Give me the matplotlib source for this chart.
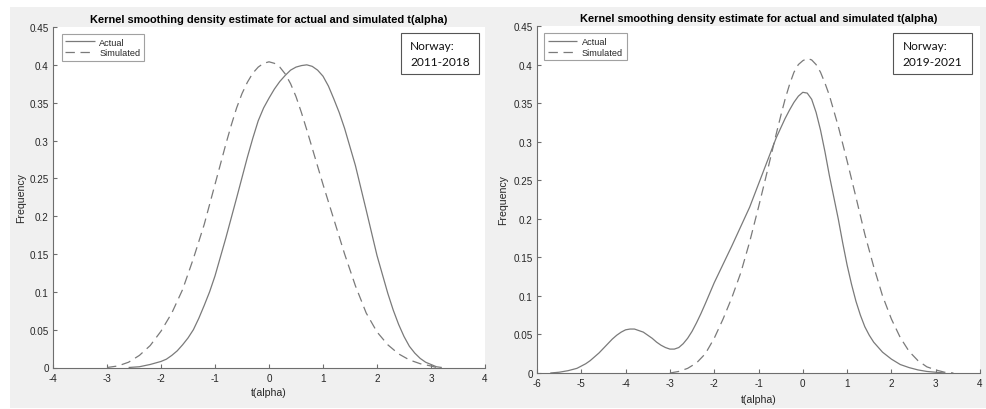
import matplotlib
matplotlib.use("Agg")
import matplotlib.pyplot as plt
from matplotlib.patches import Rectangle

plt.rcParams['font.family'] = ['Liberation Sans', 'DejaVu Sans']

# ---------------- data ----------------
# Left panel: Norway 2011-2018
left_actual_x = [-2.6, -2.4, -2.2, -2.0, -1.9, -1.8, -1.7, -1.6, -1.5, -1.4, -1.3, -1.2, -1.1,
                 -1.0, -0.8, -0.6, -0.4, -0.3, -0.2, -0.1, 0.0, 0.1, 0.2, 0.3, 0.4, 0.5, 0.6,
                 0.7, 0.8, 0.9, 1.0, 1.1, 1.2, 1.3, 1.4, 1.6, 1.8, 2.0, 2.2, 2.3, 2.4, 2.5,
                 2.6, 2.7, 2.8, 2.9, 3.0, 3.1, 3.2]
left_actual_y = [0.0, 0.001, 0.004, 0.008, 0.011, 0.016, 0.022, 0.030, 0.039, 0.050, 0.065,
                 0.082, 0.100, 0.121, 0.171, 0.224, 0.278, 0.303, 0.326, 0.343, 0.356, 0.368,
                 0.378, 0.386, 0.393, 0.397, 0.399, 0.400, 0.398, 0.393, 0.385, 0.372, 0.355,
                 0.337, 0.316, 0.267, 0.208, 0.148, 0.098, 0.076, 0.057, 0.041, 0.028, 0.019,
                 0.012, 0.007, 0.004, 0.001, 0.0]

left_sim_x = [-3.0, -2.8, -2.6, -2.4, -2.2, -2.0, -1.8, -1.6, -1.4, -1.2, -1.0, -0.8, -0.7,
              -0.6, -0.5, -0.4, -0.3, -0.2, -0.1, 0.0, 0.1, 0.2, 0.3, 0.4, 0.5, 0.6, 0.7,
              0.8, 1.0, 1.2, 1.4, 1.6, 1.8, 2.0, 2.2, 2.4, 2.6, 2.8, 3.0, 3.1]
left_sim_y = [0.0, 0.002, 0.007, 0.016, 0.029, 0.048, 0.072, 0.103, 0.144, 0.189, 0.242,
              0.295, 0.320, 0.343, 0.362, 0.377, 0.389, 0.397, 0.402, 0.404, 0.402, 0.397,
              0.388, 0.375, 0.358, 0.337, 0.314, 0.290, 0.242, 0.196, 0.150, 0.108, 0.072,
              0.047, 0.030, 0.018, 0.010, 0.005, 0.002, 0.0]

# Right panel: Norway 2019-2021
right_actual_x = [-5.7, -5.5, -5.3, -5.1, -5.0, -4.9, -4.8, -4.7, -4.6, -4.5, -4.4, -4.3,
                  -4.2, -4.1, -4.0, -3.9, -3.8, -3.7, -3.6, -3.5, -3.4, -3.3, -3.2, -3.1,
                  -3.0, -2.9, -2.8, -2.7, -2.6, -2.5, -2.4, -2.3, -2.2, -2.0, -1.8, -1.6,
                  -1.4, -1.2, -1.0, -0.8, -0.6, -0.4, -0.3, -0.2, -0.1, 0.0, 0.1, 0.2, 0.3,
                  0.4, 0.5, 0.6, 0.7, 0.8, 0.9, 1.0, 1.1, 1.2, 1.3, 1.4, 1.5, 1.6, 1.8, 2.0,
                  2.2, 2.4, 2.6, 2.8, 3.0, 3.2]
right_actual_y = [0.0, 0.001, 0.003, 0.006, 0.009, 0.012, 0.016, 0.021, 0.026, 0.032, 0.038,
                  0.044, 0.049, 0.053, 0.056, 0.057, 0.057, 0.055, 0.053, 0.049, 0.045, 0.040,
                  0.036, 0.033, 0.031, 0.031, 0.033, 0.038, 0.045, 0.054, 0.065, 0.077, 0.090,
                  0.117, 0.141, 0.165, 0.190, 0.215, 0.245, 0.275, 0.305, 0.330, 0.341, 0.351,
                  0.359, 0.364, 0.363, 0.355, 0.338, 0.315, 0.287, 0.256, 0.228, 0.200, 0.169,
                  0.140, 0.115, 0.093, 0.075, 0.060, 0.049, 0.040, 0.027, 0.018, 0.011, 0.007,
                  0.004, 0.002, 0.001, 0.0]

right_sim_x = [-3.0, -2.8, -2.6, -2.4, -2.2, -2.0, -1.8, -1.6, -1.4, -1.2, -1.0, -0.8, -0.6,
               -0.5, -0.4, -0.3, -0.2, -0.1, 0.0, 0.1, 0.2, 0.3, 0.4, 0.5, 0.6, 0.8, 1.0,
               1.2, 1.4, 1.6, 1.8, 2.0, 2.2, 2.4, 2.6, 2.8, 3.0, 3.2, 3.4]
right_sim_y = [0.0, 0.002, 0.006, 0.013, 0.025, 0.045, 0.070, 0.098, 0.130, 0.170, 0.215,
               0.262, 0.310, 0.333, 0.355, 0.374, 0.390, 0.400, 0.405, 0.408, 0.406, 0.400,
               0.390, 0.376, 0.360, 0.320, 0.275, 0.228, 0.180, 0.138, 0.100, 0.070, 0.046,
               0.028, 0.016, 0.008, 0.004, 0.001, 0.0]

title_text = "Kernel smoothing density estimate for actual and simulated t(alpha)"
legend_labels = ["Actual", "Simulated"]
left_xticks = [-4, -3, -2, -1, 0, 1, 2, 3, 4]
right_xticks = [-6, -5, -4, -3, -2, -1, 0, 1, 2, 3, 4]
yticks = [0, 0.05, 0.1, 0.15, 0.2, 0.25, 0.3, 0.35, 0.4, 0.45]
ytick_labels = ["0", "0.05", "0.1", "0.15", "0.2", "0.25", "0.3", "0.35", "0.4", "0.45"]
box_texts = ["Norway:\n2011-2018", "Norway:\n2019-2021"]

# ---------------- figure ----------------
W, H = 986, 410
fig = plt.figure(figsize=(W / 100, H / 100), dpi=100, facecolor='white')

def px(x0, y0, x1, y1):
    return [x0 / W, 1 - y1 / H, (x1 - x0) / W, (y1 - y0) / H]

# gray MATLAB figure background
fig.patches.append(Rectangle((10 / W, 1 - 409 / H), (W - 10) / W, (409 - 8) / H,
                             transform=fig.transFigure, facecolor='#f0f0f0',
                             edgecolor='none', zorder=-10))

line_col = '#7a7a7a'
axis_col = '#6e6e6e'
text_col = '#262626'

panels = [
    dict(rect=px(53, 28, 485, 368.5), xlim=(-4, 4), xticks=left_xticks,
         ax_=left_actual_x, ay_=left_actual_y, sx_=left_sim_x, sy_=left_sim_y,
         ylab=(26, ), xlab_top=388, box=(400.7, 34, 479, 75), text=box_texts[0],
         leg=(61.7, 35), axl=53, axr=485, axt=28, axb=368.5),
    dict(rect=px(537, 27, 980, 374), xlim=(-6, 4), xticks=right_xticks,
         ax_=right_actual_x, ay_=right_actual_y, sx_=right_sim_x, sy_=right_sim_y,
         ylab=(508, ), xlab_top=395, box=(893, 34, 972, 75), text=box_texts[1],
         leg=(544.3, 34.3), axl=537, axr=980, axt=27, axb=374),
]

for p in panels:
    ax = fig.add_axes(p['rect'])
    ax.set_facecolor('white')
    ax.plot(p['ax_'], p['ay_'], color=line_col, lw=0.9, solid_capstyle='butt',
            solid_joinstyle='round', label=legend_labels[0])
    ax.plot(p['sx_'], p['sy_'], color=line_col, lw=0.9, dashes=(7.5, 4.5),
            label=legend_labels[1])
    ax.set_xlim(*p['xlim'])
    ax.set_ylim(0, 0.45)
    ax.set_xticks(p['xticks'])
    ax.set_xticklabels([str(t) for t in p['xticks']])
    ax.set_yticks(yticks)
    ax.set_yticklabels(ytick_labels)
    for s in ['top', 'right']:
        ax.spines[s].set_visible(False)
    for s in ['left', 'bottom']:
        ax.spines[s].set_color(axis_col)
        ax.spines[s].set_linewidth(0.8)
    ax.tick_params(direction='in', length=3, width=0.8, color=axis_col,
                   labelsize=7.1, labelcolor=text_col)
    ax.tick_params(axis='x', pad=3.8)
    ax.tick_params(axis='y', pad=3)
    ax.set_title(title_text, fontsize=7.9, fontweight='bold', color='black', pad=3.3)
    ax.set_xlabel("t(alpha)", fontsize=7.6, color=text_col)
    ax.set_ylabel("Frequency", fontsize=7.6, color=text_col)
    wpx = p['axr'] - p['axl']
    hpx = p['axb'] - p['axt']
    ax.yaxis.set_label_coords((p['ylab'][0] - p['axl']) / wpx, 0.5)
    ax.xaxis.set_label_coords(0.5, (p['axb'] - p['xlab_top']) / hpx)

    lx, ly = p['leg']
    leg = ax.legend(loc='upper left',
                    bbox_to_anchor=((lx - p['axl']) / wpx, (p['axb'] - ly) / hpx),
                    borderaxespad=0, fontsize=6.6, frameon=True, fancybox=False,
                    handlelength=3.2, handletextpad=0.5, borderpad=0.4,
                    labelspacing=0.2)
    leg.get_frame().set_edgecolor('#8a8a8a')
    leg.get_frame().set_linewidth(0.8)
    for t in leg.get_texts():
        t.set_color(text_col)

    # Annotation box
    x0, y0, x1, y1 = p['box']
    fig.patches.append(Rectangle((x0 / W, 1 - y1 / H), (x1 - x0) / W, (y1 - y0) / H,
                                 transform=fig.transFigure, facecolor='white',
                                 edgecolor='#555555', lw=0.8, zorder=5))
    fig.text((x0 + 9.5) / W, 1 - (y0 + (y1 - y0) / 2) / H, p['text'],
             fontsize=8.6, family=['Lato', 'DejaVu Sans'], color='#111111',
             ha='left', va='center', linespacing=1.45, zorder=6)

fig.savefig("out.png", dpi=100, facecolor=fig.get_facecolor())
